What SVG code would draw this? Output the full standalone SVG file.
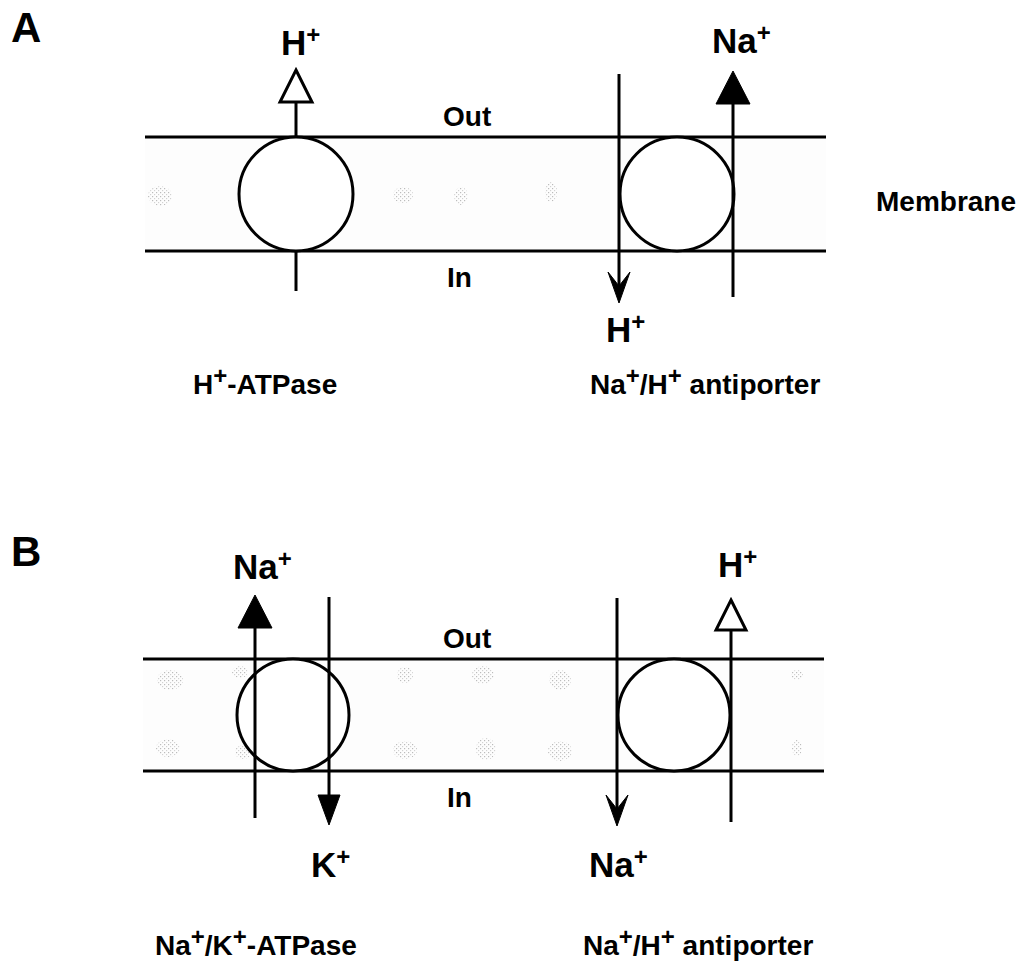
<svg xmlns="http://www.w3.org/2000/svg" width="1029" height="968" viewBox="0 0 1029 968">
<style>
text{font-family:"Liberation Sans",Arial,sans-serif;font-weight:bold;fill:#000}
.lab{font-size:28px}
.ion{font-size:35px}
.sup{font-size:24px}
.panel{font-size:42px}
.mem{stroke:#000;stroke-width:3;fill:none}
.prot{stroke:#000;stroke-width:3;fill:#fff}
.ln{stroke:#000;stroke-width:3;fill:none}
.hollow{stroke:#000;stroke-width:3;fill:#fff;stroke-linejoin:miter}
.solid{fill:#000;stroke:#000;stroke-width:1}
.speck{fill:url(#dots);opacity:0.7}
</style>
<defs>
<pattern id="dots" width="4" height="4" patternUnits="userSpaceOnUse">
<rect x="0" y="0" width="1.2" height="1.2" fill="#a0a0a0"/>
<rect x="2" y="2" width="1.2" height="1.2" fill="#c0c0c0"/>
</pattern>
</defs>
<rect width="1029" height="968" fill="#fff"/>

<g id="panelA">
<text class="panel" x="11" y="42">A</text>
<g id="membraneA">
<rect x="145" y="138" width="681" height="112" fill="#fdfdfd"/>
<ellipse class="speck" cx="160" cy="196" rx="12" ry="10"/>
<ellipse class="speck" cx="403" cy="195" rx="10" ry="8"/>
<ellipse class="speck" cx="461" cy="196" rx="7" ry="9"/>
<ellipse class="speck" cx="551" cy="192" rx="6" ry="10"/>
<line class="mem" x1="145" y1="137" x2="826" y2="137"/>
<line class="mem" x1="145" y1="251" x2="826" y2="251"/>
</g>
<text class="lab" x="443" y="126">Out</text>
<text class="lab" x="447" y="287">In</text>
<text class="lab" x="876" y="211">Membrane</text>
<g id="hATPaseA">
<circle class="prot" cx="296" cy="194" r="57"/>
<text class="lab" x="193" y="394">H<tspan class="sup" dy="-10">+</tspan><tspan dy="10">-ATPase</tspan></text>
</g>
<g id="antiporterA">
<circle class="prot" cx="677" cy="194" r="57"/>
<text class="lab" x="590" y="394">Na<tspan class="sup" dy="-10">+</tspan><tspan dy="10">/H</tspan><tspan class="sup" dy="-10">+</tspan><tspan dy="10"> antiporter</tspan></text>
</g>
<text class="ion" x="281" y="55">H<tspan class="sup" dy="-12">+</tspan></text>
<text class="ion" x="712" y="53">Na<tspan class="sup" dy="-12">+</tspan></text>
<text class="ion" x="606" y="342">H<tspan class="sup" dy="-12">+</tspan></text>
</g>

<g id="panelB">
<text class="panel" x="11" y="566">B</text>
<g id="membraneB">
<rect x="143" y="660" width="681" height="110" fill="#fdfdfd"/>
<ellipse class="speck" cx="170" cy="680" rx="13" ry="10"/>
<ellipse class="speck" cx="168" cy="748" rx="12" ry="9"/>
<ellipse class="speck" cx="240" cy="672" rx="8" ry="6"/>
<ellipse class="speck" cx="243" cy="752" rx="8" ry="7"/>
<ellipse class="speck" cx="405" cy="675" rx="8" ry="8"/>
<ellipse class="speck" cx="405" cy="750" rx="12" ry="9"/>
<ellipse class="speck" cx="483" cy="675" rx="11" ry="9"/>
<ellipse class="speck" cx="486" cy="749" rx="10" ry="11"/>
<ellipse class="speck" cx="560" cy="680" rx="11" ry="10"/>
<ellipse class="speck" cx="560" cy="751" rx="12" ry="10"/>
<ellipse class="speck" cx="797" cy="675" rx="6" ry="5"/>
<ellipse class="speck" cx="797" cy="748" rx="5" ry="8"/>
<line class="mem" x1="143" y1="659" x2="824" y2="659"/>
<line class="mem" x1="143" y1="771" x2="824" y2="771"/>
</g>
<text class="lab" x="443" y="648">Out</text>
<text class="lab" x="447" y="807">In</text>
<g id="nakATPaseB">
<circle class="prot" cx="293" cy="715" r="56"/>
<text class="lab" x="155" y="955">Na<tspan class="sup" dy="-10">+</tspan><tspan dy="10">/K</tspan><tspan class="sup" dy="-10">+</tspan><tspan dy="10">-ATPase</tspan></text>
</g>
<g id="antiporterB">
<circle class="prot" cx="674" cy="715" r="56"/>
<text class="lab" x="583" y="955">Na<tspan class="sup" dy="-10">+</tspan><tspan dy="10">/H</tspan><tspan class="sup" dy="-10">+</tspan><tspan dy="10"> antiporter</tspan></text>
</g>
<text class="ion" x="233" y="579">Na<tspan class="sup" dy="-12">+</tspan></text>
<text class="ion" x="718" y="577">H<tspan class="sup" dy="-12">+</tspan></text>
<text class="ion" x="311" y="877">K<tspan class="sup" dy="-12">+</tspan></text>
<text class="ion" x="589" y="877">Na<tspan class="sup" dy="-12">+</tspan></text>
</g>

<g id="connectors">
<line class="ln" x1="296" y1="291" x2="296" y2="251"/>
<line class="ln" x1="296" y1="137" x2="296" y2="102"/>
<polygon class="hollow" points="296,70 312,102 280,102"/>
<line class="ln" x1="619" y1="74" x2="619" y2="298"/>
<polygon class="solid" points="619,303 608,272 619,286 630,272"/>
<line class="ln" x1="733" y1="297" x2="733" y2="103"/>
<polygon class="solid" points="733,71 750,104 716,104"/>
<line class="ln" x1="255" y1="818" x2="255" y2="628"/>
<polygon class="solid" points="255,595 272,628 238,628"/>
<line class="ln" x1="329" y1="597" x2="329" y2="796"/>
<polygon class="solid" points="329,825 318,795 340,795"/>
<line class="ln" x1="617" y1="598" x2="617" y2="820"/>
<polygon class="solid" points="617,826 606,795 617,809 628,795"/>
<line class="ln" x1="731" y1="822" x2="731" y2="630"/>
<polygon class="hollow" points="731,600 746,630 716,630"/>
</g>
</svg>
